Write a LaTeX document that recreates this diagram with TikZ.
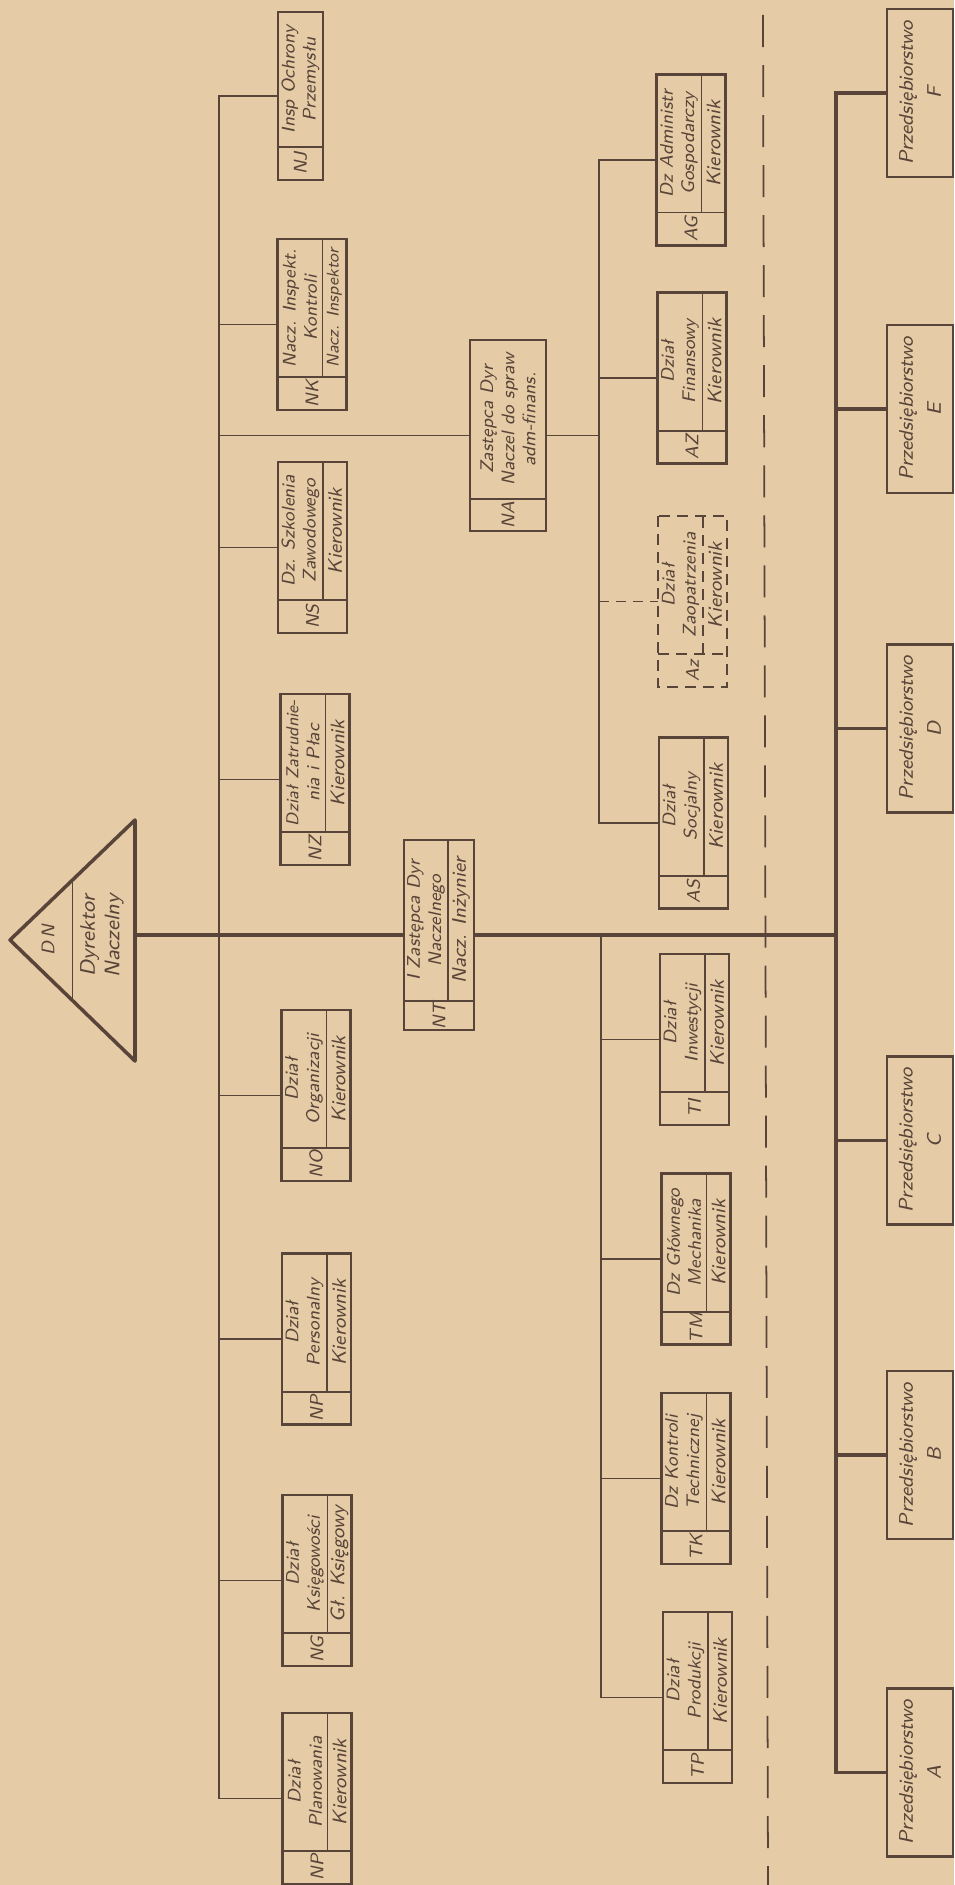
\documentclass[tikz,border=0pt]{standalone}
\usepackage{xcolor}
\usepackage{tikz}
\usetikzlibrary{positioning,calc}
\definecolor{paper}{RGB}{229,203,166}
\definecolor{ink}{RGB}{88,68,56}

% department box: code cell on the left, title above, post below
\newcommand{\dept}[6][]{%
  \node[unitbox,#1] (#2) at (#3) {};
  \node[codecell,anchor=north west] (#2-c) at (#2.north west) {#4};
  \node[titlecell,anchor=north west] (#2-t) at (#2-c.north east) {#5};
  \node[rolecell,anchor=south west] (#2-r) at (#2-c.south east) {#6};
  \draw[divider,#1] (#2-c.north east) -- (#2-c.south east);
  \draw[divider,#1] (#2-t.south west) -- (#2-t.south east);
}

\begin{document}
\begin{tikzpicture}[x=0.01cm, y=-0.01cm, >=stealth]
  \tikzstyle{hand} = [text=ink, font=\sffamily\itshape\fontsize{5.2}{6}\selectfont]
  \tikzstyle{unitbox} = [draw=ink, line width=0.75pt, rotate=90, minimum width=1.71cm, minimum height=0.69cm, inner sep=0pt, outer sep=0pt]
  \tikzstyle{cell} = [hand, rotate=90, inner sep=0pt, outer sep=0pt, align=center]
  \tikzstyle{codecell} = [cell, minimum width=0.33cm, minimum height=0.69cm]
  \tikzstyle{titlecell} = [cell, minimum width=1.38cm, minimum height=0.45cm]
  \tikzstyle{rolecell} = [cell, minimum width=1.38cm, minimum height=0.24cm, font=\sffamily\itshape\fontsize{5.6}{6}\selectfont]
  \tikzstyle{firm} = [draw=ink, line width=0.75pt, rotate=90, minimum width=1.68cm, minimum height=0.66cm, inner sep=0pt, outer sep=0pt, align=center, text=ink, font=\sffamily\itshape\fontsize{5.6}{8}\selectfont]
  \tikzstyle{divider} = [draw=ink, line width=0.55pt]
  \tikzstyle{thinline} = [draw=ink, line width=0.45pt]
  \tikzstyle{busline} = [draw=ink, line width=1pt]
  \tikzstyle{splitline} = [draw=ink, line width=0.5pt, dash pattern=on 0.32cm off 0.18cm]
  \tikzstyle{planned} = [dash pattern=on 0.11cm off 0.07cm]

  % paper
  \fill[paper] (0,0) rectangle (954,1885);
  \useasboundingbox (0,0) rectangle (954,1885);

  % bus positions
  \coordinate (nbus) at (219,0);
  \coordinate (abus) at (599,0);
  \coordinate (tbus) at (601,0);
  \coordinate (fbus) at (836,0);

  % Dyrektor Naczelny
  \coordinate (dn-apex) at (10,940);
  \coordinate (dn-top) at (135,820);
  \coordinate (dn-bot) at (135,1061);
  \coordinate (dn-base) at (135,935);
  \draw[draw=ink, line width=1pt, line join=round] (dn-apex) -- (dn-top) -- (dn-bot) -- cycle;
  \draw[divider] ($(dn-apex)!0.5!(dn-top)$) -- ($(dn-apex)!0.5!(dn-bot)$);
  \node[hand, rotate=90] (dn-code) at (48,940) {D\,N};
  \node[hand, rotate=90, align=center, font=\sffamily\itshape\fontsize{6}{7}\selectfont] (dn-name) at (102,936) {Dyrektor\\Naczelny};

  % top row
  \node[unitbox, minimum width=1.68cm, minimum height=0.45cm] (nj) at (300.5,96) {};
  \node[codecell, minimum height=0.45cm, anchor=north west] (nj-c) at (nj.north west) {NJ};
  \node[titlecell, minimum width=1.35cm, anchor=north west] (nj-t) at (nj-c.north east) {Insp Ochrony\\Przemysłu};
  \draw[divider] (nj-c.north east) -- (nj-c.south east);

  \dept{nk}{312,324.5}{NK}{Nacz. Inspekt.\\Kontroli}{\fontsize{4.8}{5}\selectfont Nacz. Inspektor}
  \dept{ns}{312.5,547.5}{NS}{Dz. Szkolenia\\Zawodowego}{Kierownik}
  \dept{nz}{315,779.5}{NZ}{\fontsize{4.9}{6}\selectfont Dział Zatrudnie-\\nia i Płac}{Kierownik}
  \dept{no}{316,1095.5}{NO}{Dział\\Organizacji}{Kierownik}
  \dept{np}{316.5,1339}{NP}{Dział\\Personalny}{Kierownik}
  \dept{ng}{317,1580.5}{NG}{Dział\\Księgowości}{Gł. Księgowy}
  \dept{npl}{317,1798.5}{NP}{Dział\\Planowania}{Kierownik}

  \draw[thinline] (nj.north) -- (nj.north -| nbus) -- (npl.north -| nbus) -- (npl.north);
  \foreach \d in {nk,ns,nz,no,np,ng}
    \draw[thinline] (\d.north -| nbus) -- (\d.north);

  % I Zastepca
  \node[unitbox, minimum width=1.90cm, minimum height=0.70cm] (nt) at (439,935) {};
  \node[codecell, minimum width=0.29cm, minimum height=0.70cm, anchor=north west] (nt-c) at (nt.north west) {NT};
  \node[titlecell, minimum width=1.61cm, minimum height=0.44cm, anchor=north west] (nt-t) at (nt-c.north east) {I Zastępca Dyr\\Naczelnego};
  \node[rolecell, minimum width=1.61cm, minimum height=0.26cm, anchor=south west] (nt-r) at (nt-c.south east) {Nacz. Inżynier};
  \draw[divider] (nt-c.north east) -- (nt-c.south east);
  \draw[divider] (nt-t.south west) -- (nt-t.south east);

  % Zastepca adm-finans
  \node[unitbox, minimum width=1.91cm, minimum height=0.76cm] (na) at (508,435.5) {};
  \node[codecell, minimum width=0.32cm, minimum height=0.76cm, anchor=north west] (na-c) at (na.north west) {NA};
  \node[titlecell, minimum width=1.59cm, minimum height=0.76cm, anchor=north west] (na-t) at (na-c.north east) {Zastępca Dyr\\Naczel do spraw\\adm-finans.};
  \draw[divider] (na-c.north east) -- (na-c.south east);
  \draw[thinline] (na.north -| nbus) -- (na.north);

  % administration
  \dept{ag}{691,160}{AG}{Dz Administr\\Gospodarczy}{Kierownik}
  \dept{azf}{692,378}{AZ}{Dział\\Finansowy}{Kierownik}
  \dept[planned]{azd}{692.5,601.5}{Az}{Dział\\Zaopatrzenia}{Kierownik}
  \dept{as}{693.5,823}{AS}{Dział\\Socjalny}{Kierownik}

  \draw[thinline] (ag.north) -- (ag.north -| abus) -- (as.north -| abus) -- (as.north);
  \draw[thinline] (azf.north -| abus) -- (azf.north);
  \draw[thinline, dash pattern=on 0.1cm off 0.07cm] (azd.north -| abus) -- (azd.north);
  \draw[thinline] (na.south) -- (na.south -| abus);

  % technical
  \dept{ti}{694.5,1039.5}{TI}{Dział\\Inwestycji}{Kierownik}
  \dept{tm}{696,1259}{TM}{Dz Głównego\\Mechanika}{Kierownik}
  \dept{tk}{696,1478.5}{TK}{Dz Kontroli\\Technicznej}{Kierownik}
  \dept{tp}{697.5,1697.5}{TP}{Dział\\Produkcji}{Kierownik}

  \draw[thinline] (nt.south -| tbus) -- (tp.north -| tbus) -- (tp.north);
  \foreach \d in {ti,tm,tk}
    \draw[thinline] (\d.north -| tbus) -- (\d.north);

  % separator
  \coordinate (split-top) at (763,15);
  \coordinate (split-bot) at (768,1885);
  \draw[splitline] (split-top) -- (split-bot);

  % enterprises
  \node[firm] (pf) at (920,93) {Przedsiębiorstwo\\F};
  \node[firm] (pe) at (920,409) {Przedsiębiorstwo\\E};
  \node[firm] (pd) at (920,728.5) {Przedsiębiorstwo\\D};
  \node[firm] (pc) at (920,1140.5) {Przedsiębiorstwo\\C};
  \node[firm] (pb) at (920,1455) {Przedsiębiorstwo\\B};
  \node[firm] (pa) at (920,1772.5) {Przedsiębiorstwo\\A};

  \draw[busline] (pf.north) -- (pf.north -| fbus) -- (pa.north -| fbus) -- (pa.north);
  \foreach \d in {pe,pd,pc,pb}
    \draw[busline] (\d.north -| fbus) -- (\d.north);

  % main line
  \draw[busline] (dn-base) -- (nt.north);
  \draw[busline] (nt.south) -- (nt.south -| fbus);
\end{tikzpicture}
\end{document}
